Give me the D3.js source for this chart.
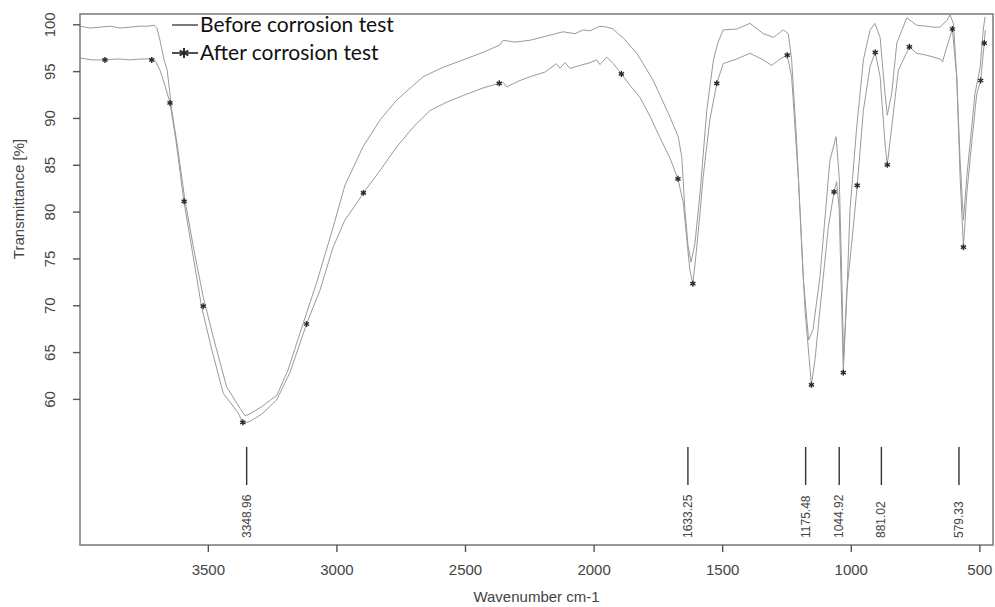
<!DOCTYPE html>
<html>
<head>
<meta charset="utf-8">
<script src="https://cdn.jsdelivr.net/npm/d3@7"></script>
<style>
  body { margin: 0; background: #fff; }
  .line { fill: none; stroke: #9a9a9a; stroke-width: 1; }
</style>
</head>
<body>
<div id="ftir-chart"></div>
<script>
// wavenumber (cm-1), transmittance (%)
var beforeWave = [3997,3958,3919,3880,3841,3803,3764,3733,3709,3698,3686,3670,3658,3640,3616,3589,3554,3518,3476,3427,3375,3355,3336,3289,3231,3188,3142,3077,3013,2967,2897,2830,2766,2663,2586,2508,2430,2364,2352,2306,2247,2189,2119,2072,2041,2014,1975,1948,1924,1897,1886,1832,1768,1703,1671,1657,1645,1633,1621,1606,1586,1560,1534,1516,1496,1443,1392,1340,1301,1262,1243,1230,1210,1185,1164,1147,1120,1081,1057,1045,1035,1028,1016,1003,977,951,925,906,886,867,858,841,821,782,744,705,680,653,627,614,601,588,575,562,549,536,517,497,485,478];
var beforeT = [99.8,99.6,99.7,99.8,99.6,99.7,99.8,99.8,99.9,99.6,98.3,96.2,95.1,90.8,86.6,81.2,75.9,70.9,66.3,61.3,59.0,58.2,58.4,59.2,60.4,63.1,67.0,72.4,78.3,82.8,86.9,89.8,91.9,94.4,95.4,96.2,97.0,97.8,98.3,98.1,98.3,98.7,99.2,99.0,99.4,99.3,99.8,99.7,99.5,98.8,98.6,96.9,94.0,90.1,88.0,85.8,80.2,76.4,74.6,76.6,82.0,90.8,96.2,98.1,99.4,99.5,100.1,99.0,98.6,99.4,99.0,96.2,87.3,73.0,66.3,67.4,73.0,85.5,88.0,83.7,73.0,64.2,70.6,80.2,89.0,96.2,99.4,100.1,98.6,92.6,90.3,92.6,98.0,100.7,99.9,99.8,99.7,99.7,100.4,101.0,100.1,94.4,85.5,79.1,83.7,87.3,92.6,95.4,99.4,100.8];

var afterWave = [3997,3950,3900,3849,3803,3756,3717,3702,3686,3667,3647,3624,3593,3558,3524,3484,3440,3382,3363,3336,3289,3232,3181,3116,3064,3013,2967,2921,2895,2830,2766,2702,2636,2570,2507,2430,2367,2352,2337,2325,2286,2247,2189,2144,2131,2111,2092,2053,2014,1988,1975,1949,1923,1892,1859,1820,1781,1742,1703,1672,1651,1637,1626,1614,1600,1587,1574,1548,1521,1496,1443,1392,1340,1308,1275,1247,1230,1204,1178,1153,1139,1120,1087,1065,1055,1045,1035,1029,1016,990,975,951,925,905,886,867,858,841,815,772,744,705,653,643,634,605,588,575,562,549,530,510,495,481,477];
var afterT = [96.4,96.2,96.2,96.3,96.2,96.3,96.3,96.0,95.1,93.5,91.6,87.6,81.1,75.4,69.8,65.2,60.6,58.5,57.4,57.6,58.4,59.9,62.8,68.0,71.6,76.2,79.1,80.9,82.0,84.4,86.9,89.0,90.8,91.7,92.4,93.2,93.7,93.8,93.3,93.5,94.0,94.4,94.9,95.8,95.3,95.9,95.3,95.6,95.9,96.2,95.7,96.5,95.8,94.7,93.5,92.2,90.2,87.9,85.7,83.5,80.9,76.9,73.8,72.3,75.9,79.6,83.7,89.8,93.7,95.8,96.3,96.9,96.2,95.6,96.3,96.7,94.4,83.7,69.5,61.5,64.2,69.5,78.4,82.1,83.2,80.2,69.5,62.8,71.3,78.4,82.8,90.8,95.5,97.0,94.4,87.3,85.0,89.0,95.1,97.6,96.9,96.7,96.3,96.0,96.9,99.5,94.4,83.7,76.2,81.9,87.3,92.6,94.0,98.0,99.4];

// asterisk markers sitting on the "after" trace
var markWave = [3900,3718,3647,3592,3518,3364,3116,2895,2367,1892,1672,1614,1521,1247,1153,1065,1029,975,905,858,772,605,562,495,481];
var markT = [96.2,96.2,91.6,81.1,69.9,57.5,68.0,82.0,93.7,94.7,83.5,72.3,93.7,96.7,61.5,82.1,62.8,82.8,97.0,85.0,97.6,99.5,76.2,94.0,98.0];

var peaks = ["3348.96","1633.25","1175.48","1044.92","881.02","579.33"];
var xTicks = [3500,3000,2500,2000,1500,1000,500];
var yTicks = [60,65,70,75,80,85,90,95,100];

var W = 995, H = 607;
var pLeft = 80, pRight = 993, pTop = 14, pBottom = 545;

var svg = d3.select("#ftir-chart").append("svg")
    .attr("width", W)
    .attr("height", H);

var x = d3.scaleLinear().domain([3997, 447]).range([pLeft, pRight]);
var y = d3.scaleLinear().domain([44.4, 101.1]).range([pBottom, pTop]);

function pairs(xs, ys) {
    return xs.map(function (v, i) { return [v, ys[i]]; });
}

var line = d3.line()
    .x(function (d) { return x(d[0]); })
    .y(function (d) { return y(d[1]); });

svg.append("defs").append("clipPath").attr("id", "plot-clip")
    .append("rect")
    .attr("x", pLeft).attr("y", pTop)
    .attr("width", pRight - pLeft).attr("height", pBottom - pTop);

var plot = svg.append("g").attr("clip-path", "url(#plot-clip)");

plot.append("path").datum(pairs(beforeWave, beforeT))
    .attr("class", "line")
    .attr("d", line);

plot.append("path").datum(pairs(afterWave, afterT))
    .attr("class", "line")
    .attr("d", line);

// asterisk
function star(g, cx, cy, r, w) {
    for (var k = 0; k < 3; k++) {
        var a = Math.PI / 2 + k * Math.PI / 3;
        g.append("line")
            .attr("x1", cx - r * Math.cos(a)).attr("y1", cy - r * Math.sin(a))
            .attr("x2", cx + r * Math.cos(a)).attr("y2", cy + r * Math.sin(a))
            .attr("stroke", "#2a2a2a").attr("stroke-width", w);
    }
}

var marks = plot.append("g");
pairs(markWave, markT).forEach(function (d) {
    star(marks, x(d[0]), y(d[1]), 3, 1.4);
});

// peak labels
var pk = svg.append("g");
peaks.forEach(function (p) {
    var px = x(+p);
    pk.append("line")
        .attr("x1", px).attr("x2", px)
        .attr("y1", 447).attr("y2", 485)
        .attr("stroke", "#333").attr("stroke-width", 1.4);
    pk.append("text")
        .attr("transform", "translate(" + (px + 4) + ",538) rotate(-90)")
        .attr("text-anchor", "start")
        .style("font-family", "Liberation Sans, Arial, sans-serif")
        .style("font-size", "12px")
        .style("fill", "#444")
        .text(p);
});

// frame
svg.append("rect")
    .attr("x", pLeft).attr("y", pTop)
    .attr("width", pRight - pLeft).attr("height", pBottom - pTop)
    .attr("fill", "none")
    .attr("stroke", "#777")
    .attr("stroke-width", 1.5);

// X axis
var xAxis = svg.append("g")
    .attr("transform", "translate(0," + pBottom + ")")
    .call(d3.axisBottom(x).tickValues(xTicks).tickFormat(d3.format("d")).tickSize(7).tickPadding(12));
xAxis.select(".domain").remove();
xAxis.selectAll("line").attr("stroke", "#555").attr("stroke-width", 1.4);
xAxis.selectAll("text")
    .style("font-family", "Liberation Sans, Arial, sans-serif")
    .style("font-size", "15px")
    .style("fill", "#444");

// Y axis, R style with rotated labels
var yAxis = svg.append("g")
    .attr("transform", "translate(" + pLeft + ",0)")
    .call(d3.axisLeft(y).tickValues(yTicks).tickSize(7));
yAxis.select(".domain").remove();
yAxis.selectAll("line").attr("stroke", "#555").attr("stroke-width", 1.4);
yAxis.selectAll("text")
    .attr("x", 0).attr("dy", null)
    .attr("text-anchor", "middle")
    .attr("transform", "translate(-29,0) rotate(-90)")
    .attr("dominant-baseline", "middle")
    .style("font-family", "Liberation Sans, Arial, sans-serif")
    .style("font-size", "15px")
    .style("fill", "#444");

svg.append("text")
    .attr("transform", "translate(24,199) rotate(-90)")
    .attr("text-anchor", "middle")
    .style("font-family", "Liberation Sans, Arial, sans-serif")
    .style("font-size", "15px")
    .style("fill", "#444")
    .text("Transmittance [%]");

svg.append("text")
    .attr("x", (pLeft + pRight) / 2)
    .attr("y", 602)
    .attr("text-anchor", "middle")
    .style("font-family", "Liberation Sans, Arial, sans-serif")
    .style("font-size", "15px")
    .style("fill", "#444")
    .text("Wavenumber cm-1");

// legend
var lg = svg.append("g");
lg.append("line").attr("x1", 172).attr("x2", 198).attr("y1", 25).attr("y2", 25)
    .attr("stroke", "#222").attr("stroke-width", 1.2);
lg.append("line").attr("x1", 172).attr("x2", 198).attr("y1", 53).attr("y2", 53)
    .attr("stroke", "#222").attr("stroke-width", 1.6);
star(lg, 184, 53, 5, 2);
lg.append("text").attr("x", 200).attr("y", 32)
    .style("font-family", "Lato, sans-serif").style("font-size", "21px").style("fill", "#111")
    .text("Before corrosion test");
lg.append("text").attr("x", 200).attr("y", 60)
    .style("font-family", "Lato, sans-serif").style("font-size", "21px").style("fill", "#111")
    .text("After corrosion test");
</script>
</body>
</html>
